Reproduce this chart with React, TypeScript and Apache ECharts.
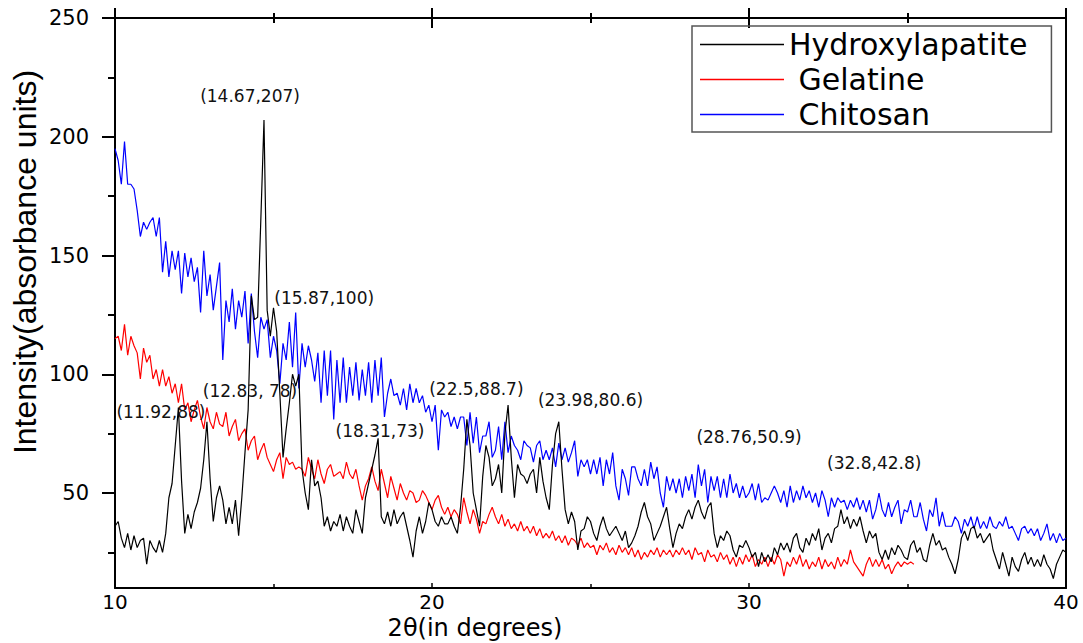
import React, { useEffect, useRef } from "react";
import * as echarts from "echarts";

const X_START = 10;
const X_STEP = 0.1;

// Intensities sampled every 0.1 degree, starting at 10 degrees
const hydroxylapatite = [
  36, 38, 31, 27, 33, 26, 32, 27, 30, 31,
  20, 30, 27, 25, 30, 25, 33, 48, 54, 70,
  86, 55, 33, 41, 35, 42, 46, 52, 64, 80,
  56, 38, 48, 53, 47, 37, 44, 37, 47, 32,
  48, 67, 85, 133, 123, 124, 165, 207, 127, 116,
  128, 118, 92, 65, 77, 88, 100, 95, 100, 60,
  50, 43, 64, 53, 55, 48, 36, 40, 34, 38,
  36, 41, 34, 40, 36, 33, 43, 38, 33, 48,
  54, 60, 66, 73, 40, 37, 42, 36, 43, 37,
  40, 42, 36, 30, 23, 34, 40, 33, 38, 46,
  43, 38, 36, 40, 37, 37, 40, 36, 33, 44,
  60, 81, 70, 50, 43, 36, 57, 70, 65, 53,
  56, 62, 50, 75, 87, 65, 48, 62, 58, 57,
  54, 58, 60, 50, 65, 55, 48, 43, 62, 75,
  80, 60, 43, 37, 42, 38, 26, 34, 35, 40,
  38, 33, 30, 36, 40, 35, 32, 34, 36, 33,
  30, 34, 27, 29, 32, 36, 42, 46, 40, 37,
  30, 33, 36, 40, 44, 35, 27, 33, 37, 35,
  40, 43, 39, 44, 47, 42, 39, 44, 46, 33,
  27, 32, 30, 34, 32, 26, 23, 28, 27, 30,
  27, 23, 25, 19, 25, 21, 24, 21, 27, 24,
  29, 26, 29, 25, 31, 33, 27, 25, 31, 28,
  33, 30, 35, 26, 31, 33, 29, 35, 36, 43,
  37, 40, 35, 39, 36, 40, 34, 29, 34, 31,
  33, 25, 22, 26, 22, 27, 24, 28, 26, 23,
  22, 28, 30, 25, 27, 22, 21, 28, 33, 28,
  30, 26, 27, 23, 20, 16, 22, 31, 34, 30,
  35, 36, 31, 33, 29, 31, 33, 26, 22, 18,
  25, 20, 15, 23, 19, 17, 22, 25, 20, 23,
  19, 22, 19, 24, 20, 18, 14, 20, 23, 26,
  25,
];

const gelatine = [
  115, 116, 110, 121, 108, 116, 112, 109, 98, 111,
  105, 108, 98, 102, 95, 102, 95, 99, 92, 96,
  88, 96, 85, 88, 80, 85, 89, 82, 77, 86,
  80, 77, 84, 79, 78, 84, 74, 78, 81, 72,
  75, 77, 68, 72, 74, 64, 68, 71, 65, 62,
  59, 64, 67, 56, 65, 62, 63, 60, 61, 60,
  57, 65, 60, 56, 64, 58, 54, 60, 62, 57,
  58, 59, 56, 63, 58, 56, 60, 53, 47, 53,
  56, 61, 55, 51, 60, 54, 48, 57, 52, 47,
  54, 50, 47, 51, 50, 46, 47, 51, 49, 46,
  43, 47, 49, 44, 41, 44, 40, 43, 41, 37,
  48, 42, 37, 43, 39, 33, 38, 37, 41, 44,
  40, 37, 41, 36, 39, 35, 37, 34, 38, 34,
  36, 33, 36, 32, 35, 31, 33, 31, 34, 30,
  32, 29, 32, 28, 31, 30, 28, 31, 27, 29,
  27, 28, 24, 28, 26, 29, 25, 27, 24, 28,
  25, 27, 24, 27, 23, 26, 22, 25, 23, 26,
  24, 27, 23, 26, 24, 26, 23, 26, 24, 27,
  24, 26, 22, 27, 24, 25, 21, 26, 23, 24,
  21, 25, 22, 24, 20, 23, 19, 23, 20, 24,
  21, 24, 19, 22, 20, 23, 19, 23, 20, 24,
  22, 15, 21, 19, 23, 20, 24, 19, 22, 18,
  21, 19, 23, 18, 22, 19, 21, 18, 23, 19,
  22, 20, 26, 21, 19, 17, 15, 20, 23, 19,
  22, 19, 22, 18, 20, 16, 19, 21, 19, 21,
  20, 21, 20,
];

const chitosan = [
  195, 190, 180, 198, 180, 180, 178, 169, 158, 164,
  161, 164, 166, 158, 166, 143, 156, 141, 152, 144,
  152, 134, 151, 141, 149, 139, 145, 126, 152, 133,
  142, 127, 137, 147, 106, 131, 122, 136, 119, 131,
  124, 135, 113, 134, 118, 107, 124, 119, 123, 107,
  116, 110, 96, 113, 106, 122, 103, 126, 94, 113,
  103, 112, 106, 97, 109, 88, 110, 91, 110, 81,
  106, 88, 107, 88, 103, 91, 105, 89, 102, 91,
  105, 88, 106, 91, 107, 82, 92, 98, 91, 92,
  87, 94, 85, 96, 88, 94, 88, 91, 84, 87,
  80, 87, 68, 85, 82, 84, 78, 82, 77, 82,
  82, 70, 84, 71, 82, 67, 74, 74, 80, 65,
  68, 78, 64, 80, 67, 74, 70, 68, 64, 72,
  70, 69, 63, 70, 72, 64, 68, 64, 69, 61,
  71, 64, 69, 63, 67, 72, 57, 64, 61, 64,
  58, 64, 58, 65, 53, 64, 58, 67, 53, 47,
  60, 56, 49, 61, 61, 56, 53, 60, 53, 63,
  56, 61, 50, 44, 57, 51, 56, 50, 56, 48,
  57, 51, 58, 48, 62, 53, 60, 46, 57, 51,
  57, 48, 56, 48, 58, 50, 54, 48, 53, 48,
  50, 54, 47, 54, 46, 48, 47, 50, 53, 50,
  46, 51, 44, 53, 46, 51, 47, 53, 48, 51,
  46, 50, 44, 51, 47, 40, 48, 44, 48, 46,
  47, 43, 47, 44, 48, 43, 47, 42, 47, 39,
  43, 50, 43, 40, 46, 40, 44, 47, 37, 43,
  42, 47, 40, 40, 46, 39, 34, 43, 40, 48,
  36, 42, 36, 36, 36, 40, 38, 33, 39, 36,
  40, 35, 40, 35, 38, 35, 40, 36, 35, 38,
  36, 40, 35, 36, 33, 30, 35, 36, 33, 35,
  32, 35, 30, 33, 37, 30, 33, 29, 33, 30,
  31,
];

const xTicks = [10, 20, 30, 40];
const yTicks = [50, 100, 150, 200, 250];
const yMinorTicks = [25, 75, 125, 175, 225];

// Peak annotations: [label, x, y] in data units
const annotations: [string, number, number][] = [
  ["(14.67,207)", 14.26, 217],
  ["(15.87,100)", 16.6, 132],
  ["(12.83, 78)", 14.26, 93],
  ["(11.92,88)", 11.45, 84],
  ["(18.31,73)", 18.36, 76],
  ["(22.5,88.7)", 21.4, 94],
  ["(23.98,80.6)", 25.0, 89],
  ["(28.76,50.9)", 30.0, 73.5],
  ["(32.8,42.8)", 33.95, 62.7],
];

const toPairs = (vals: number[]) =>
  vals.map((v, i) => [Number((X_START + i * X_STEP).toFixed(2)), v]);

const FONT = '"DejaVu Sans", sans-serif';

export default function App() {
  const ref = useRef<HTMLDivElement>(null);
  useEffect(() => {
    document.body.style.margin = "0";
    if (!ref.current) return;
    const chart = echarts.init(ref.current, null, { renderer: "svg" });
    const axisLine = { show: true, lineStyle: { color: "#000", width: 2 } };
    const xBase = { type: "value", min: 10, max: 40, interval: 10, splitLine: { show: false } };
    const yBase = { type: "value", min: 10, max: 250, splitLine: { show: false } };
    chart.setOption({
      animation: false,
      backgroundColor: "#fff",
      grid: { left: 115, right: 17, top: 18, bottom: 55, show: false },
      legend: {
        orient: "vertical",
        left: 692,
        top: 26,
        data: ["Hydroxylapatite", "Gelatine", "Chitosan"],
        icon: "rect",
        itemWidth: 84,
        itemHeight: 1.5,
        itemGap: 4,
        padding: [3, 24, 2, 8],
        borderColor: "#555",
        borderWidth: 1.5,
        borderRadius: 0,
        formatter: (n: string) => (n === "Hydroxylapatite" ? n : "\u00a0" + n),
        textStyle: { fontFamily: FONT, fontSize: 30, color: "#000", lineHeight: 31 },
      },
      xAxis: [
        {
          ...xBase,
          position: "bottom",
          axisLine,
          axisTick: { show: true, inside: true, length: 5, lineStyle: { color: "#000", width: 1.5 } },
          minorTick: { show: true, splitNumber: 2, length: 4, lineStyle: { color: "#000", width: 1.5 } },
          axisLabel: {
            customValues: xTicks,
            margin: 4,
            fontFamily: FONT,
            fontSize: 20,
            color: "#000",
          },
        },
        {
          ...xBase,
          position: "top",
          axisLine,
          axisTick: { show: true, inside: true, length: 10, lineStyle: { color: "#000", width: 2 } },
          minorTick: { show: true, splitNumber: 2, length: 5, lineStyle: { color: "#000", width: 2 } },
          axisLabel: { show: false },
        },
        {
          ...xBase,
          position: "top",
          axisLine: { show: false },
          axisTick: { show: true, inside: false, length: 10, lineStyle: { color: "#000", width: 2 } },
          minorTick: { show: true, splitNumber: 2, length: 5, lineStyle: { color: "#000", width: 2 } },
          axisLabel: { show: false },
        },
      ],
      yAxis: [
        {
          ...yBase,
          position: "left",
          axisLine,
          axisTick: { show: true, inside: false, length: 13, customValues: yTicks, lineStyle: { color: "#000", width: 2 } },
          axisLabel: { customValues: yTicks, margin: 26, fontFamily: FONT, fontSize: 21, color: "#000" },
        },
        {
          ...yBase,
          position: "left",
          axisLine: { show: false },
          axisTick: { show: true, inside: false, length: 7, customValues: yMinorTicks, lineStyle: { color: "#000", width: 2 } },
          axisLabel: { show: false },
        },
        {
          ...yBase,
          position: "right",
          axisLine,
          axisTick: { show: false },
          axisLabel: { show: false },
        },
      ],
      series: [
        {
          name: "Chitosan",
          type: "line",
          data: toPairs(chitosan),
          symbol: "none",
          lineStyle: { color: "#0000ff", width: 1.2 },
          itemStyle: { color: "#0000ff" },
        },
        {
          name: "Gelatine",
          type: "line",
          data: toPairs(gelatine),
          symbol: "none",
          lineStyle: { color: "#ff0000", width: 1.2 },
          itemStyle: { color: "#ff0000" },
        },
        {
          name: "Hydroxylapatite",
          type: "line",
          data: toPairs(hydroxylapatite),
          symbol: "none",
          lineStyle: { color: "#000", width: 1.2 },
          itemStyle: { color: "#000" },
          markPoint: {
            symbol: "circle",
            symbolSize: 0,
            silent: true,
            label: {
              show: true,
              position: "inside",
              fontFamily: FONT,
              fontSize: 17,
              color: "#111",
            },
            data: annotations.map(([t, x, y]) => ({
              coord: [x, y],
              value: t,
              label: { formatter: t },
            })),
          },
        },
      ],
      graphic: [
        {
          type: "text",
          x: 475,
          y: 628,
          style: {
            text: "2\u03b8(in degrees)",
            font: '24px "DejaVu Sans", sans-serif',
            fill: "#000",
            textAlign: "center",
            textVerticalAlign: "middle",
          },
        },
        {
          type: "text",
          x: 25,
          y: 262,
          rotation: Math.PI / 2,
          style: {
            text: "Intensity(absorbance units)",
            font: '32px "Liberation Sans", sans-serif',
            fill: "#000",
            textAlign: "center",
            textVerticalAlign: "middle",
          },
        },
      ],
    });
    return () => chart.dispose();
  }, []);
  return (
    <div
      ref={ref}
      style={{ width: 1083, height: 643, position: "absolute", left: 0, top: 0 }}
    />
  );
}
